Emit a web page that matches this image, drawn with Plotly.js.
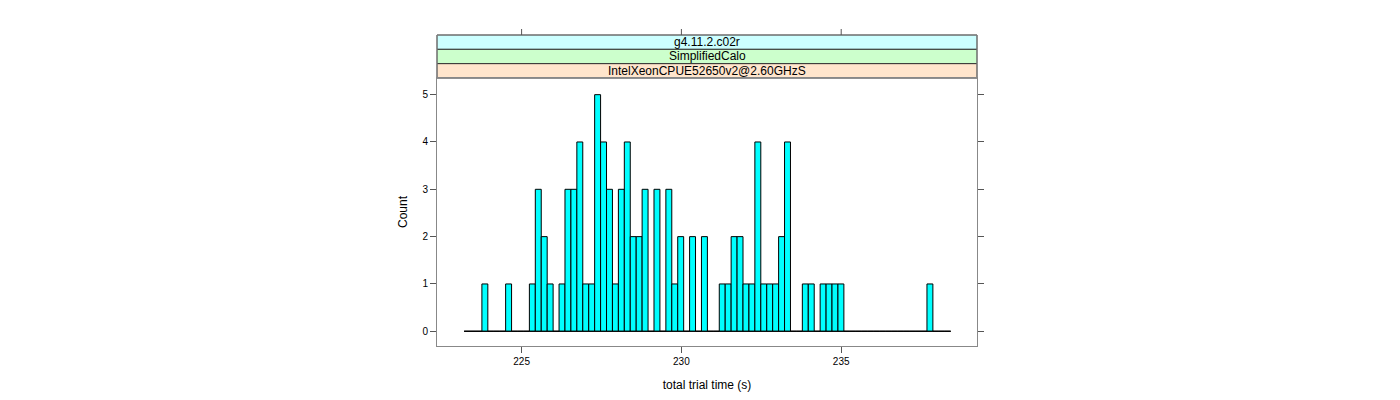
<!DOCTYPE html>
<html>
<head>
<meta charset="utf-8">
<script src="https://cdn.plot.ly/plotly-3.0.1.min.js"></script>
<style>html,body{margin:0;padding:0;background:#fff;}#chart{width:1400px;height:400px;}</style>
</head>
<body>
<div id="chart"></div>
<script>
// ---- data ----
const stripLabels = ["g4.11.2.c02r", "SimplifiedCalo", "IntelXeonCPUE52650v2@2.60GHzS"];
const stripColors = ["#CCFFFF", "#CCFFCC", "#FFE5CC"];
const breakStart = 223.201;   // first histogram break (s)
const binWidth = 0.18567;     // histogram bin width (s)
const counts = [
  0,0,0,1,0,0,0,1,0,0,
  0,1,3,2,1,0,1,3,3,4,
  1,1,5,4,3,1,3,4,2,2,
  3,0,3,0,3,1,2,0,2,0,
  2,0,0,1,1,2,2,1,1,4,
  1,1,1,2,4,0,0,1,1,0,
  1,1,1,1,0,0,0,0,0,0,
  0,0,0,0,0,0,0,0,1,0,
  0,0
];
const xTicks = [225, 230, 235];
const yTicks = [0, 1, 2, 3, 4, 5];
const xTitle = "total trial time (s)";
const yTitle = "Count";

// ---- build ----
const centers = counts.map((_, i) => breakStart + (i + 0.5) * binWidth);
const breakEnd = breakStart + counts.length * binWidth;

const W = 1400, H = 400;
const mL = 437, mR = 423, mT = 78, mB = 54;
const plotH = H - mT - mB;
const py = p => (H - mB - p) / plotH; // pixel y -> paper y

const stripTops = [35, 49.33, 63.67];
const stripBots = [49.33, 63.67, 78];

const shapes = [];
const annotations = [];
stripLabels.forEach((lab, i) => {
  shapes.push({type: 'rect', xref: 'paper', yref: 'paper', x0: 0, x1: 1,
    y0: py(stripBots[i]), y1: py(stripTops[i]),
    fillcolor: stripColors[i], line: {color: '#333333', width: 1}, layer: 'below'});
  annotations.push({xref: 'paper', yref: 'paper', x: 0.5, y: py((stripTops[i] + stripBots[i]) / 2),
    text: lab, showarrow: false, xanchor: 'center', yanchor: 'middle',
    font: {family: 'Liberation Sans, Arial, sans-serif', size: 12, color: '#000'}});
});
// outer strip frame in gray
shapes.push({type: 'rect', xref: 'paper', yref: 'paper', x0: 0, x1: 1, y0: py(78), y1: py(35),
  fillcolor: 'rgba(0,0,0,0)', line: {color: '#888888', width: 1}});
// top ticks above the strips
xTicks.forEach(t => {
  shapes.push({type: 'line', xref: 'x', yref: 'paper', x0: t, x1: t, y0: py(35), y1: py(29),
    line: {color: '#555555', width: 1}});
});

const traces = [
  {type: 'bar', x: centers, y: counts, width: binWidth,
   marker: {color: '#00FFFF', line: {color: '#000000', width: 1}},
   hoverinfo: 'skip', showlegend: false},
  {type: 'scatter', mode: 'lines', x: [breakStart, breakEnd], y: [0, 0],
   line: {color: '#000000', width: 1}, hoverinfo: 'skip', showlegend: false}
];

const tickFont = {family: 'Liberation Sans, Arial, sans-serif', size: 10, color: '#000'};
const layout = {
  width: W, height: H,
  margin: {l: mL, r: mR, t: mT, b: mB, pad: 0},
  paper_bgcolor: '#ffffff', plot_bgcolor: '#ffffff',
  bargap: 0,
  showlegend: false,
  xaxis: {range: [222.353, 239.249], tickvals: xTicks, ticktext: xTicks.map(String),
    ticks: 'outside', ticklen: 6, tickcolor: '#555555', tickwidth: 1,
    showline: true, linecolor: '#888888', linewidth: 1, mirror: true,
    showgrid: false, zeroline: false, tickfont: tickFont,
    title: {text: xTitle, standoff: 14, font: {family: 'Liberation Sans, Arial, sans-serif', size: 12, color: '#000'}}},
  yaxis: {range: [-0.311, 5.352], tickvals: yTicks, ticktext: yTicks.map(String),
    ticks: 'outside', ticklen: 6, tickcolor: '#555555', tickwidth: 1,
    showline: true, linecolor: '#888888', linewidth: 1, mirror: 'ticks',
    showgrid: false, zeroline: false, tickfont: tickFont,
    title: {text: yTitle, standoff: 12, font: {family: 'Liberation Sans, Arial, sans-serif', size: 12, color: '#000'}}},
  shapes: shapes,
  annotations: annotations
};

Plotly.newPlot('chart', traces, layout, {staticPlot: true, displayModeBar: false});
</script>
</body>
</html>
